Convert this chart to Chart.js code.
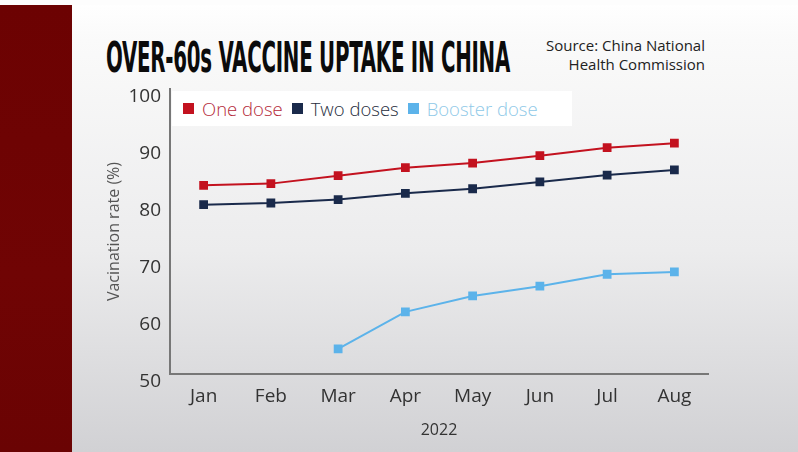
<!DOCTYPE html>
<html>
<head>
<meta charset="utf-8">
<script src="https://cdn.jsdelivr.net/npm/chart.js@4/dist/chart.umd.min.js"></script>
<style>
  html, body { margin: 0; padding: 0; }
  body {
    width: 798px; height: 452px; overflow: hidden; position: relative;
    background: linear-gradient(to bottom, #ffffff 0px, #fafafa 40px, #ececed 250px, #d1d1d4 452px);
    font-family: 'Open Sans', sans-serif;
  }
  #topstrip { position: absolute; left: 0; top: 0; width: 798px; height: 5px; background: #fdfdfd; }
  #band { position: absolute; left: 0; top: 5px; width: 72px; height: 447px;
    background: linear-gradient(to bottom, #6c0202, #700404 60%, #6a0303); }
  #title { position: absolute; left: 106px; top: 35px; font-family: 'Liberation Sans Narrow', 'DejaVu Sans Condensed', sans-serif;
    font-weight: bold; font-size: 43px; line-height: 44px; color: #0b0b0b; white-space: nowrap; transform-origin: 0 50%; letter-spacing: -0.5px; }
  #source { position: absolute; right: 93px; top: 36px; text-align: right; font-size: 15px; line-height: 19px; color: #222; }
  #legend { position: absolute; left: 172px; top: 91px; width: 400px; height: 35px; background: #ffffff;
    display: flex; align-items: center; font-size: 18.5px; font-weight: 300; }
  #legend span.item { display: inline-flex; align-items: center; margin-left: 11px; }
  #legend span.item + span.item { margin-left: 9px; }
  #legend span.sw { display: inline-block; width: 11px; height: 11px; margin-right: 8px; }
  #c { position: absolute; left: 0; top: 0; }
</style>
</head>
<body>
<div id="topstrip"></div>
<div id="band"></div>
<div id="title">OVER-60s VACCINE UPTAKE IN CHINA</div>
<div id="source">Source: China National<br>Health Commission</div>
<canvas id="c" width="798" height="452"></canvas>
<div id="legend"></div>
<script>
const months = ['Jan', 'Feb', 'Mar', 'Apr', 'May', 'Jun', 'Jul', 'Aug'];
const oneDose = [83.1, 83.4, 84.8, 86.2, 87.0, 88.3, 89.7, 90.5];
const twoDoses = [79.7, 80.0, 80.6, 81.7, 82.5, 83.7, 84.9, 85.8];
const booster = [null, null, 54.4, 60.9, 63.7, 65.4, 67.5, 67.9];
const yTicks = [50, 60, 70, 80, 90, 100];
const seriesNames = ['One dose', 'Two doses', 'Booster dose'];
const seriesColors = ['#c3121f', '#1a2a4b', '#5cb3ea'];
const legendText = ['#b52a3a', '#262c3c', '#8fc9e8'];

// fit title width to the reference
const title = document.getElementById('title');
title.style.transform = 'scaleX(' + (404 / title.offsetWidth) + ')';

// legend in html (white box)
document.getElementById('legend').innerHTML = seriesNames.map((n, i) =>
    `<span class="item"><span class="sw" style="background:${seriesColors[i]}"></span><span style="color:${legendText[i]}">${n}</span></span>`
).join('');

function ds(label, data, color) {
    return {
        label: label,
        data: data,
        borderColor: color,
        backgroundColor: color,
        borderWidth: 2,
        pointStyle: 'rect',
        pointRadius: 4.8,
        pointHoverRadius: 4.8,
        tension: 0,
        spanGaps: false
    };
}

new Chart(document.getElementById('c'), {
    type: 'line',
    data: {
        labels: months,
        datasets: [
            ds(seriesNames[0], oneDose, seriesColors[0]),
            ds(seriesNames[1], twoDoses, seriesColors[1]),
            ds(seriesNames[2], booster, seriesColors[2])
        ]
    },
    options: {
        responsive: false,
        animation: false,
        devicePixelRatio: 1,
        layout: { padding: { left: 72, right: 90, top: 89, bottom: 8 } },
        plugins: { legend: { display: false }, tooltip: { enabled: false } },
        scales: {
            x: {
                offset: true,
                grid: { display: false, drawOnChartArea: false, drawTicks: true, tickLength: 7, color: '#666', tickColor: '#666' },
                border: { display: true, color: '#777', width: 2 },
                ticks: { color: '#333', font: { family: 'Open Sans', size: 19 }, padding: 4 },
                title: { display: true, text: '2022', color: '#333', font: { family: 'Open Sans', size: 16 }, padding: { top: 3 } },
                afterFit: s => { s.height = 70; }
            },
            y: {
                min: 50,
                max: 100,
                afterBuildTicks: s => { s.ticks = yTicks.map(v => ({ value: v })); },
                grid: { display: false, drawTicks: false },
                border: { display: true, color: '#777', width: 2 },
                ticks: { color: '#333', font: { family: 'Open Sans', size: 19 }, padding: 9, labelOffset: 8 },
                title: { display: true, text: 'Vacination rate (%)', color: '#555', font: { family: 'Open Sans', size: 16 }, padding: { top: 33, bottom: 0 } },
                afterFit: s => { s.width = 98; }
            }
        }
    }
});
</script>
</body>
</html>
